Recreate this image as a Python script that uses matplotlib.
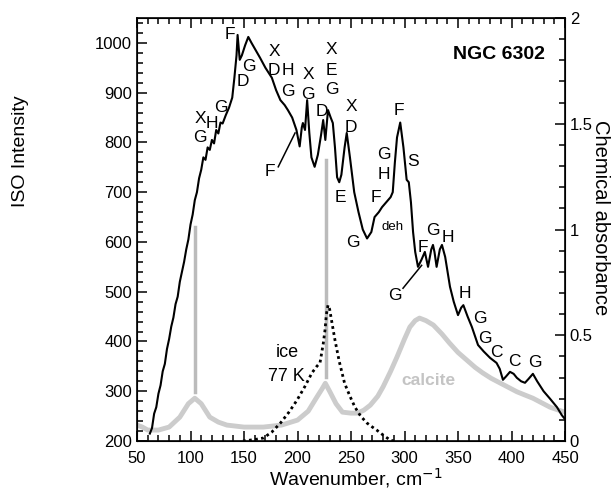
import matplotlib
matplotlib.use("Agg")
import matplotlib.pyplot as plt
from matplotlib.ticker import MultipleLocator

plt.rcParams["font.family"] = ["Liberation Sans", "DejaVu Sans"]

# ISO spectrum of NGC 6302 (wavenumber, intensity)
iso_x = [62, 64, 66, 68, 70, 72, 74, 76, 78, 80, 82, 84, 86, 88, 90, 92, 94,
         96, 98, 100, 102, 104, 106, 108, 110, 112, 114, 116, 118, 120, 122,
         124, 126, 128, 130, 133, 136, 139, 141, 143, 144, 145, 146, 148, 151,
         154, 157, 161, 165, 170, 176, 180, 184, 188, 191, 195, 199, 202, 204,
         205, 207, 209, 211, 213, 216, 219, 222, 224, 226, 228.5, 231, 233,
         235, 237, 239, 241, 244, 246, 249, 253, 257, 261, 265, 269, 272, 276,
         279, 283, 287, 289, 291, 293, 296, 299, 302, 304, 306, 308, 310,
         312.6, 316, 319, 322, 325, 326.6, 328, 330, 333, 335, 338, 342.5, 346,
         350, 353, 355, 359, 363, 368.7, 374, 380, 386, 389, 392, 395, 398.6,
         402, 405, 409, 412.6, 416, 420, 424, 430, 436, 442.5, 447, 450]
iso_y = [215, 226, 255, 268, 295, 312, 340, 355, 385, 405, 430, 448, 475, 490,
         520, 540, 560, 585, 605, 635, 655, 684, 700, 728, 745, 770, 765, 790,
         785, 805, 798, 825, 818, 840, 838, 855, 870, 890, 930, 975, 1016,
         990, 966, 975, 995, 1012, 1000, 985, 970, 950, 930, 905, 885, 875,
         865, 850, 825, 792, 830, 839, 825, 885, 820, 770, 751, 775, 815, 845,
         805, 865, 850, 839, 790, 730, 720, 735, 790, 819, 770, 700, 660, 625,
         607, 620, 650, 660, 670, 680, 690, 700, 760, 810, 840, 790, 725, 720,
         680, 620, 580, 550, 565, 580, 550, 585, 594, 580, 550, 585, 594, 570,
         510, 480, 453, 468, 473, 450, 429, 393, 380, 367, 357, 345, 323, 330,
         339, 335, 327, 320, 317, 325, 335, 320, 300, 285, 268, 252, 244]

# calcite lab spectrum, drawn in the same scale
calcite_x = [50, 55, 60, 70, 80, 90, 98, 104, 110, 118, 126, 134, 150, 168,
             185, 200, 210, 218, 223, 226, 230, 236, 242, 250, 256, 262, 268,
             275, 280, 287, 293, 300, 305, 310, 314, 320, 327, 335, 342, 350,
             358, 366, 373, 381, 389, 397, 405, 413, 420, 428, 436, 444, 450]
calcite_y = [232, 228, 222, 222, 228, 248, 275, 286, 275, 248, 238, 232, 228,
             228, 232, 242, 260, 288, 305, 316, 300, 275, 258, 256, 256, 262,
             272, 290, 309, 340, 369, 405, 429, 442, 447, 442, 433, 415, 397,
             378, 363, 348, 337, 326, 317, 308, 299, 292, 286, 277, 268, 262,
             258]

# ice at 77 K
ice_x = [149, 160, 168, 176, 184, 192, 199.5, 207, 213.5, 218, 221, 224,
         225.7, 227, 228.5, 230, 232, 235, 239, 244, 249, 253.7, 259, 265,
         270, 274, 280, 286.5, 290]
ice_y = [200, 203, 206, 218, 236, 258, 282, 310, 337, 350, 357, 395, 423, 455,
         473, 465, 440, 403, 360, 316, 290, 268, 250, 236, 228, 222, 212, 202,
         200]

# gray vertical markers (x, bottom, top)
marker_x = [104, 226.6]
marker_lo = [298, 329]
marker_hi = [630, 765]

# band labels (x, y, text)
band_labels = [
    (137, 1016, "F"), (149, 922, "D"), (154.7, 952, "G"), (128.5, 871, "G"),
    (109, 849, "X"), (119.5, 839, "H"), (109, 809, "G"),
    (178, 982, "X"), (178, 944, "D"), (191, 944, "H"), (191, 902, "G"),
    (210, 936, "X"), (210, 896, "G"), (223, 862, "D"),
    (232, 986, "X"), (232, 944, "E"), (232, 906, "G"),
    (250, 873, "X"), (250, 831, "D"), (240, 690, "E"), (252, 598, "G"),
    (273, 690, "F"), (281, 735, "H"), (281, 775, "G"),
    (295, 865, "F"), (308, 761, "S"),
    (326.6, 624, "G"), (340.6, 608, "H"), (317, 588, "F"),
    (356.5, 497, "H"), (370.6, 447, "G"), (375, 407, "G"),
    (386, 377, "C"), (403, 359, "C"), (422, 357, "G"),
]

fig = plt.figure(figsize=(6.15, 4.91), dpi=100)
ax = fig.add_axes([0.2228, 0.1018, 0.6959, 0.8615])

ax.plot(calcite_x, calcite_y, color="#cccccc", lw=3.5, solid_capstyle="round")
for mx, lo, hi in zip(marker_x, marker_lo, marker_hi):
    ax.plot([mx, mx], [lo, hi], color="#bbbbbb", lw=2.5)
ax.plot(ice_x, ice_y, color="black", lw=2, linestyle=(0, (1, 1.2)))
ax.plot(iso_x, iso_y, color="black", lw=1.5)

for x, y, s in band_labels:
    ax.text(x, y, s, fontsize=12.5, ha="center", va="center")
ax.text(289, 630, "deh", fontsize=9.5, ha="center", va="center")

# leader lines
ax.plot([182, 197.7], [751, 819], color="black", lw=1.1)
ax.text(174, 741, "F", fontsize=12.5, ha="center", va="center")
ax.plot([298.6, 316], [507, 553], color="black", lw=1.1)
ax.text(291, 493, "G", fontsize=12.5, ha="center", va="center")

ax.text(190, 377, "ice", fontsize=13, ha="center", va="center")
ax.text(190, 329, "77 K", fontsize=13, ha="center", va="center")
ax.text(322, 322, "calcite", fontsize=12.5, color="#c4c4c4",
        fontweight="bold", ha="center", va="center")
ax.text(431, 976, "NGC 6302", fontsize=14, fontweight="bold",
        ha="right", va="center")

ax.set_xlim(50, 450)
ax.set_ylim(200, 1050)
ax.xaxis.set_major_locator(MultipleLocator(50))
ax.xaxis.set_minor_locator(MultipleLocator(10))
ax.yaxis.set_major_locator(MultipleLocator(100))
ax.yaxis.set_minor_locator(MultipleLocator(20))
ax.set_yticks(range(200, 1001, 100))
ax.tick_params(which="both", direction="in", top=True, right=False,
               labelsize=12, width=1.1)
ax.tick_params(which="major", length=7)
ax.tick_params(which="minor", length=4)
ax.tick_params(axis="x", pad=7)
for sp in ax.spines.values():
    sp.set_linewidth(1.2)

ax2 = ax.twinx()
ax2.set_ylim(0, 2)
ax2.yaxis.set_major_locator(MultipleLocator(0.5))
ax2.yaxis.set_minor_locator(MultipleLocator(0.1))
ax2.set_yticks([0, 0.5, 1, 1.5, 2])
ax2.set_yticklabels(["0", "0.5", "1", "1.5", "2"])
ax2.tick_params(which="both", direction="in", labelsize=12, width=1.1)
ax2.tick_params(which="major", length=7)
ax2.tick_params(which="minor", length=4)

fig.text(0.2228 + 0.6959 * (356 - 137) / 428, 0.026, "Wavenumber, cm$^{-1}$",
         fontsize=14, ha="center", va="center")
fig.text(0.033, 1 - 151 / 491, "ISO Intensity", fontsize=14, rotation=90,
         ha="center", va="center")
fig.text(0.976, 0.556, "Chemical absorbance", fontsize=14.5, rotation=-90,
         ha="center", va="center")

fig.savefig("out.png", dpi=100)
